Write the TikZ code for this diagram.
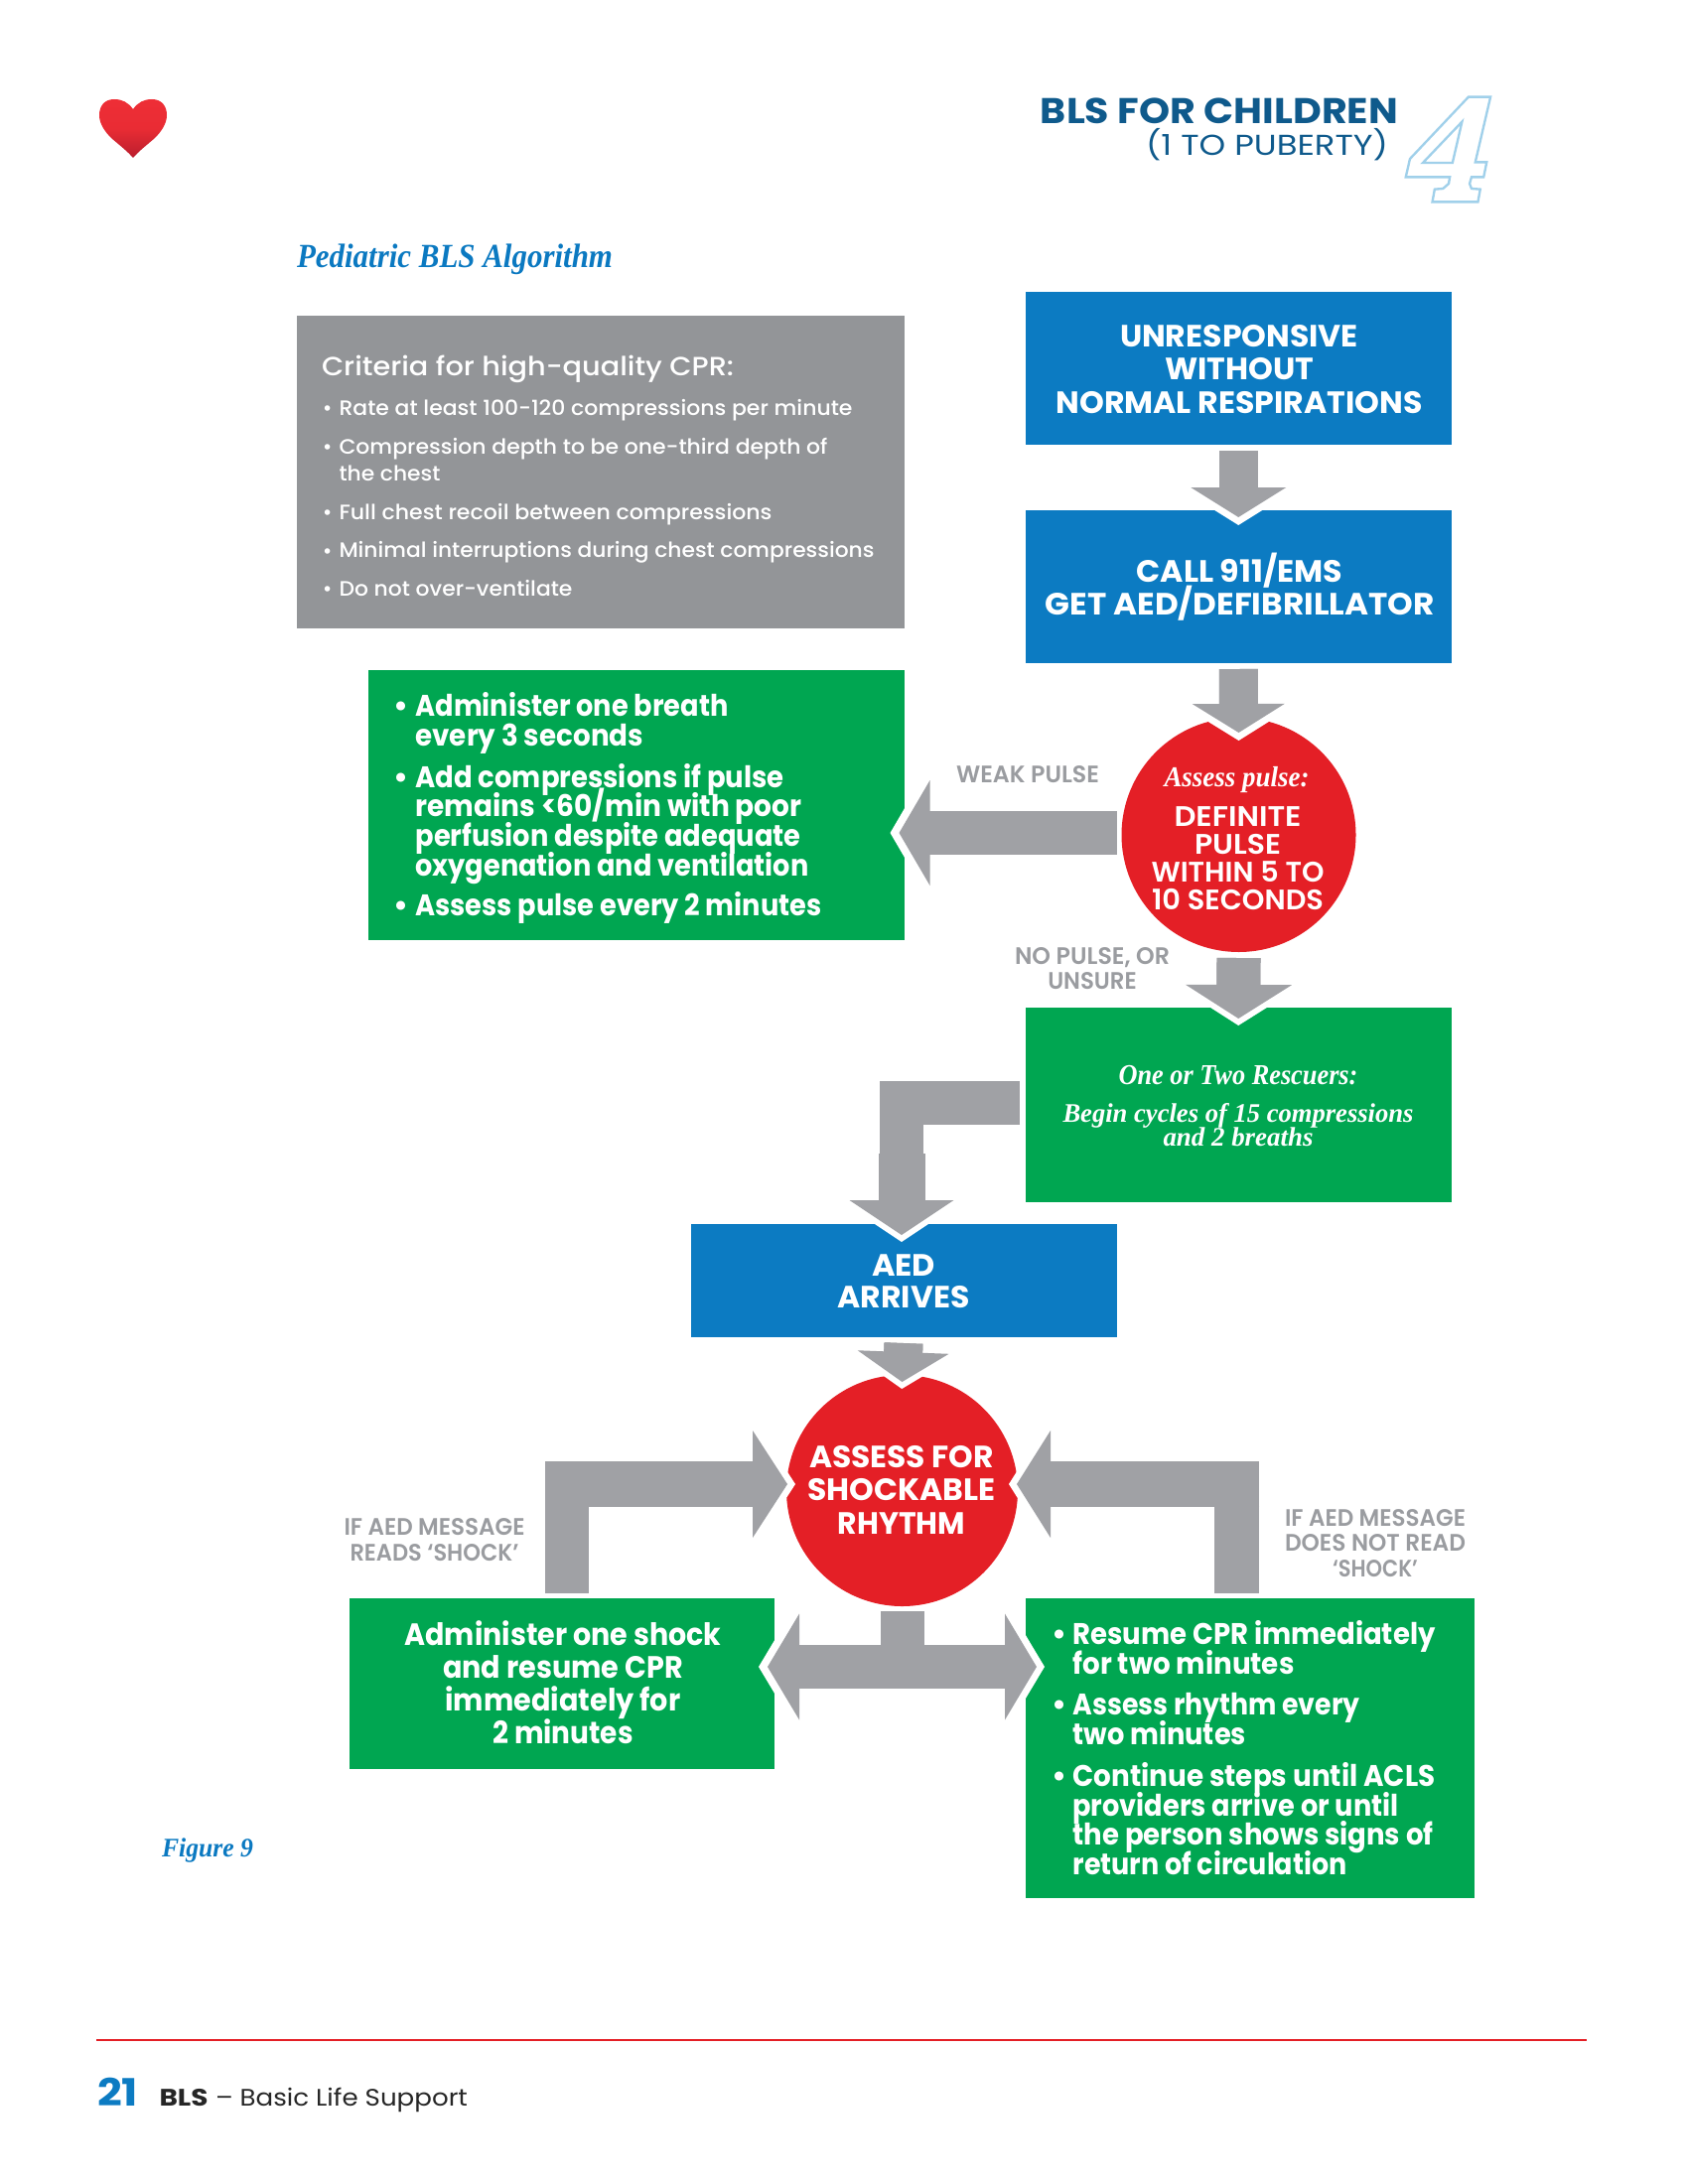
\documentclass[tikz,border=0pt]{standalone}
\usepackage{fontspec}
\usepackage{graphicx}
\usetikzlibrary{arrows.meta,calc}
\setmainfont{Poppins}
\newfontfamily\srf{Liberation Serif}[BoldItalicFont=* Bold Italic]
\newfontfamily\gsemi{Poppins SemiBold}
\newfontfamily\gmed{Poppins Medium}
\newcommand\px[1]{\fpeval{(#1)*0.36}pt}
\newcommand\fnt[1]{\fontsize{\px{#1}}{\px{#1}}\selectfont}
\newcommand\Ln[2]{\hbox{\resizebox{\px{#1}}{\height}{#2}}}
\newcommand\Stack[2]{\vtop{\baselineskip=\px{#1}\lineskiplimit=-\maxdimen\lineskip=0pt #2}}
\newcommand\Cn[3]{\hbox to \px{#1}{\hss\resizebox{\px{#2}}{\height}{#3}\hss}}
\newcommand\BL[4]{\hbox{\llap{\textbullet\hskip\px{#1}}\resizebox{\px{#2}}{\height}{#3}#4}}
\newcommand\Gap[1]{\vskip\px{#1}}
\definecolor{bblue}{HTML}{0C7BC2}
\definecolor{bgreen}{HTML}{00A651}
\definecolor{bgrey}{HTML}{939598}
\definecolor{bred}{HTML}{E41F26}
\definecolor{agrey}{HTML}{A0A1A5}
\definecolor{lgrey}{HTML}{9A9CA0}
\definecolor{navy}{HTML}{0F5A8C}
\definecolor{sblue}{HTML}{0B79C1}
\definecolor{four}{HTML}{A0D0EA}
\definecolor{hearttop}{HTML}{EE2E36}
\definecolor{heartmid}{HTML}{E92C34}
\definecolor{heartbot}{HTML}{BA1E2E}
\tikzset{
  boxnode/.style={rectangle,inner sep=0pt,outer sep=0pt},
  bluebox/.style={boxnode,fill=bblue},
  greenbox/.style={boxnode,fill=bgreen},
  greybox/.style={boxnode,fill=bgrey},
  redcircle/.style={circle,fill=bred,inner sep=0pt,outer sep=0pt,minimum size=\px{#1}},
  txt/.style={inner sep=0pt,outer sep=0pt,anchor=base,text=white},
  txtl/.style={inner sep=0pt,outer sep=0pt,anchor=base west,text=white},
  lab/.style={inner sep=0pt,outer sep=0pt,anchor=base,text=lgrey},
}
% name, style, x1,y1,x2,y2
\newcommand\Bx[6]{\node[#2,minimum width=\px{#5-#3},minimum height=\px{#6-#4}] (#1) at ({(#3+#5)/2},{(#4+#6)/2}) {};}
% from, to, shaft, headwidth, headlength, gap
\newcommand\Arr[6]{%
  \draw[white,line width=\px{#3},shorten >=-\px{#6},-{Triangle[width=\px{(#4)*(#5+#6)/(#5)},length=\px{#5+#6},line width=0pt]}] (#1) -- (#2);
  \draw[agrey,line width=\px{#3},-{Triangle[width=\px{#4},length=\px{#5},line width=0pt]}] (#1) -- (#2);
  \draw[agrey,line width=\px{#3},shorten >=\px{#5-3}] (#1) -- (#2);
}
\begin{document}
\begin{tikzpicture}[x=0.36pt,y=-0.36pt]
\useasboundingbox (0,0) rectangle (1700,2200);
% heart
\shade[top color=hearttop,bottom color=heartbot,middle color=heartmid] (134,110) .. controls (129,103) and (123,100) .. (115,100) .. controls (105,100) and (100,107) .. (100,116) .. controls (100,125) and (106,133) .. (112,139) .. controls (120,146) and (128,152) .. (134,159) .. controls (140,152) and (148,146) .. (156,139) .. controls (162,133) and (168,125) .. (168,116) .. controls (168,107) and (163,100) .. (153,100) .. controls (145,100) and (139,103) .. (134,110) -- cycle;
% header
\node[txt,text=navy,anchor=base east] (hd1) at (1408,125) {\fnt{36}\bfseries\resizebox{\px{360}}{\height}{BLS FOR CHILDREN}};
\node[txtl,text=navy] (hd2) at (1154,157) {\fnt{29}\resizebox{\px{244}}{\height}{(1 TO PUBERTY)}};
\begin{scope}[shift={(950,50)},x=0.13777pt,y=-0.12pt]
\draw[four,line width=0.85pt,line join=miter] (1382,143) -- (1440,143) -- (1400,340) -- (1430,340) -- (1422,385) -- (1390,385) -- (1385,405) -- (1390,420) -- (1413,422) -- (1407,460) -- (1287,460) -- (1293,422) -- (1315,420) -- (1330,405) -- (1333,385) -- (1217,385) -- (1228,330) -- cycle;
\draw[four,line width=0.85pt,line join=miter] (1365,218) -- (1340,342) -- (1262,342) -- cycle;
\end{scope}
\node[txtl,text=sblue] (title) at (299,270) {\srf\fnt{34}\bfseries\itshape\resizebox{\px{318}}{\height}{Pediatric BLS Algorithm}};
% boxes
\Bx{crit}{greybox}{299}{318}{910.5}{633}
\Bx{b1}{bluebox}{1033}{294}{1461.5}{448}
\Bx{b2}{bluebox}{1033}{514}{1461.5}{668}
\Bx{g1}{greenbox}{371}{675}{910.5}{947}
\Bx{g2}{greenbox}{1033}{1015}{1461.5}{1211}
\Bx{aed}{bluebox}{695.5}{1233}{1124.5}{1347}
\Bx{g3}{greenbox}{352}{1610}{780}{1782}
\Bx{g4}{greenbox}{1033}{1610}{1485}{1912}
\node[redcircle=236] (r1) at (1247.5,841) {};
\node[redcircle=233] (r2) at (908.5,1501.5) {};
% arrows
\Arr{$(b1.south)+(0,6)$}{$(b2.north)+(0,7)$}{39}{96}{30}{8}
\Arr{$(b2.south)+(0,6)$}{$(r1.north)+(0,15)$}{39}{93}{29}{8}
\Arr{$(r1.west)+(-5,-2)$}{$(g1.east)+(-5,28)$}{44}{106}{31}{9}
\Arr{$(r1.south)+(0,6)$}{$(g2.north)+(0,11)$}{44}{107}{34}{7}
% elbow green2 -> aed
\draw[agrey,line width=\px{44}] ($(g2.north west)+(-6,96)$) -- ++(-141,0) coordinate (ec);
\draw[agrey,line width=\px{44}] (908,1089) -- (908,1170);
\Arr{908,1162}{$(aed.north)+(-2,11)$}{47}{105}{35}{7}
\Arr{$(aed.south)+(0,6)$}{$(r2.north)+(0,7)$}{39}{92}{30}{7}
% left elbow
\draw[agrey,line width=\px{44}] ($(g3.north west)+(219,-5)$) -- ++(0,-133) coordinate (el);
\Arr{549,1495}{$(r2.west)+(1,-6.5)$}{46}{108}{35}{8}
% right elbow
\draw[agrey,line width=\px{45}] ($(g4.north west)+(212.5,-5)$) -- ++(0,-133) coordinate (er);
\Arr{1268,1495}{$(r2.east)+(-1,-6.5)$}{46}{108}{34}{8}
% double arrow
\draw[agrey,line width=\px{44}] ($(r2.south)+(0,5)$) -- ++(0,40) coordinate (dj);
\Arr{908,1679}{773,1679}{44.5}{107}{32}{9}
\Arr{908,1679}{1044,1679}{44.5}{107}{32}{8}
% labels
\node[lab] (lw) at (1035,788) {\gsemi\fnt{24}\Ln{144}{WEAK PULSE}};
\node[lab] (ln) at (1100,971) {\gsemi\fnt{24}\Stack{25.5}{\Cn{156}{156}{NO PULSE, OR}\Cn{156}{89.5}{UNSURE}}};
\node[lab] (ls) at (437.5,1546) {\gsemi\fnt{24}\Stack{26}{\Cn{182}{182}{IF AED MESSAGE}\Cn{182}{170}{READS ‘SHOCK’}}};
\node[lab] (ld) at (1385,1537) {\gsemi\fnt{24}\Stack{25.5}{\Cn{182}{182}{IF AED MESSAGE}\Cn{182}{182}{DOES NOT READ}\Cn{182}{86}{‘SHOCK’}}};
% box texts
\node[txtl] (tc) at (324,378) {\gmed\fnt{26.5}\resizebox{\px{415}}{\height}{Criteria for high-quality CPR:}};
\node[txtl] (tl) at (341.5,418) {\gmed\fnt{21}\Stack{27}{%
\BL{7}{517}{Rate at least 100-120 compressions per minute}{}\Gap{12}
\BL{7}{492}{Compression depth to be one-third depth of}{}
\Ln{102}{the chest}\Gap{12}
\BL{7}{436}{Full chest recoil between compressions}{}\Gap{12}
\BL{7}{539}{Minimal interruptions during chest compressions}{}\Gap{11.5}
\BL{7}{235}{Do not over-ventilate}{}}};
\node[txt] (t1) at (1248,349.5) {\fnt{31}\bfseries\Stack{33.3}{\Cn{369}{240}{UNRESPONSIVE}\Cn{369}{150}{WITHOUT}\Cn{369}{369}{NORMAL RESPIRATIONS}}};
\node[txt] (t2) at (1248.5,586) {\fnt{31}\bfseries\Stack{33}{\Cn{392}{208}{CALL 911/EMS}\Cn{392}{392}{GET AED/DEFIBRILLATOR}}};
\node[txtl] (tg1) at (418.5,721.5) {\fnt{30}\bfseries\Stack{29.8}{%
\BL{7}{315}{Administer one breath}{}
\Ln{229.5}{every 3 seconds}\Gap{12}
\BL{7}{371}{Add compressions if pulse}{}
\Ln{389}{remains <60/min with poor}
\Ln{388}{perfusion despite adequate}
\Ln{396}{oxygenation and ventilation}\Gap{10}
\BL{7}{409}{Assess pulse every 2 minutes}{}}};
\node[txt] (tr0) at (1245.5,792) {\srf\fnt{29}\bfseries\itshape\resizebox{\px{146}}{\height}{Assess pulse:}};
\node[txt] (tr1) at (1246.5,832) {\gsemi\fnt{28.5}\Stack{28.3}{\Cn{175}{128}{DEFINITE}\Cn{175}{87}{PULSE}\Cn{175}{174}{WITHIN 5 TO}\Cn{175}{173}{10 SECONDS}}};
\node[txt] (tg2a) at (1247,1092) {\srf\fnt{29}\bfseries\itshape\resizebox{\px{241}}{\height}{One or Two Rescuers:}};
\node[txt] (tg2b) at (1247,1130) {\srf\fnt{27}\bfseries\itshape\Stack{24}{\Cn{353}{353}{Begin cycles of 15 compressions}\Cn{353}{151}{and 2 breaths}}};
\node[txt] (taed) at (910,1285.5) {\fnt{31}\bfseries\Stack{32}{\Cn{133}{64}{AED}\Cn{133}{133}{ARRIVES}}};
\node[txt] (tr2) at (908,1478) {\fnt{31}\bfseries\Stack{33.7}{\Cn{189}{186}{ASSESS FOR}\Cn{189}{189}{SHOCKABLE}\Cn{189}{128.5}{RHYTHM}}};
\node[txt] (tg3) at (567,1657) {\fnt{31}\bfseries\Stack{33.3}{\Cn{319}{319}{Administer one shock}\Cn{319}{242}{and resume CPR}\Cn{319}{237}{immediately for}\Cn{319}{141.5}{2 minutes}}};
\node[txtl] (tg4) at (1080.5,1656.5) {\fnt{30}\bfseries\Stack{29.7}{%
\BL{6}{365}{Resume CPR immediately}{}
\Ln{223}{for two minutes}\Gap{11.5}
\BL{6}{289}{Assess rhythm every}{}
\Ln{174.5}{two minutes}\Gap{12.5}
\BL{6}{365}{Continue steps until ACLS}{}
\Ln{328}{providers arrive or until}
\Ln{363}{the person shows signs of}
\Ln{276}{return of circulation}}};
% figure & footer
\node[txtl,text=sblue] (fig) at (163,1870) {\srf\fnt{27}\bfseries\itshape\resizebox{\px{92}}{\height}{Figure 9}};
\coordinate (fl) at (97,2055);
\coordinate (fr) at (1598,2055);
\draw[bred,line width=\px{2.8}] (fl) -- (fr);
\node[txtl,text=bblue] (pg) at (98,2121) {\fnt{38}\bfseries\resizebox{\px{41}}{\height}{21}};
\node[txtl,text=black!85] (f1) at (160.5,2121) {\fnt{24}\bfseries\resizebox{\px{49}}{\height}{BLS}};
\node[txtl,text=black!85] (f2) at (217,2121) {\fnt{24}\resizebox{\px{254}}{\height}{– Basic Life Support}};
\end{tikzpicture}
\end{document}
